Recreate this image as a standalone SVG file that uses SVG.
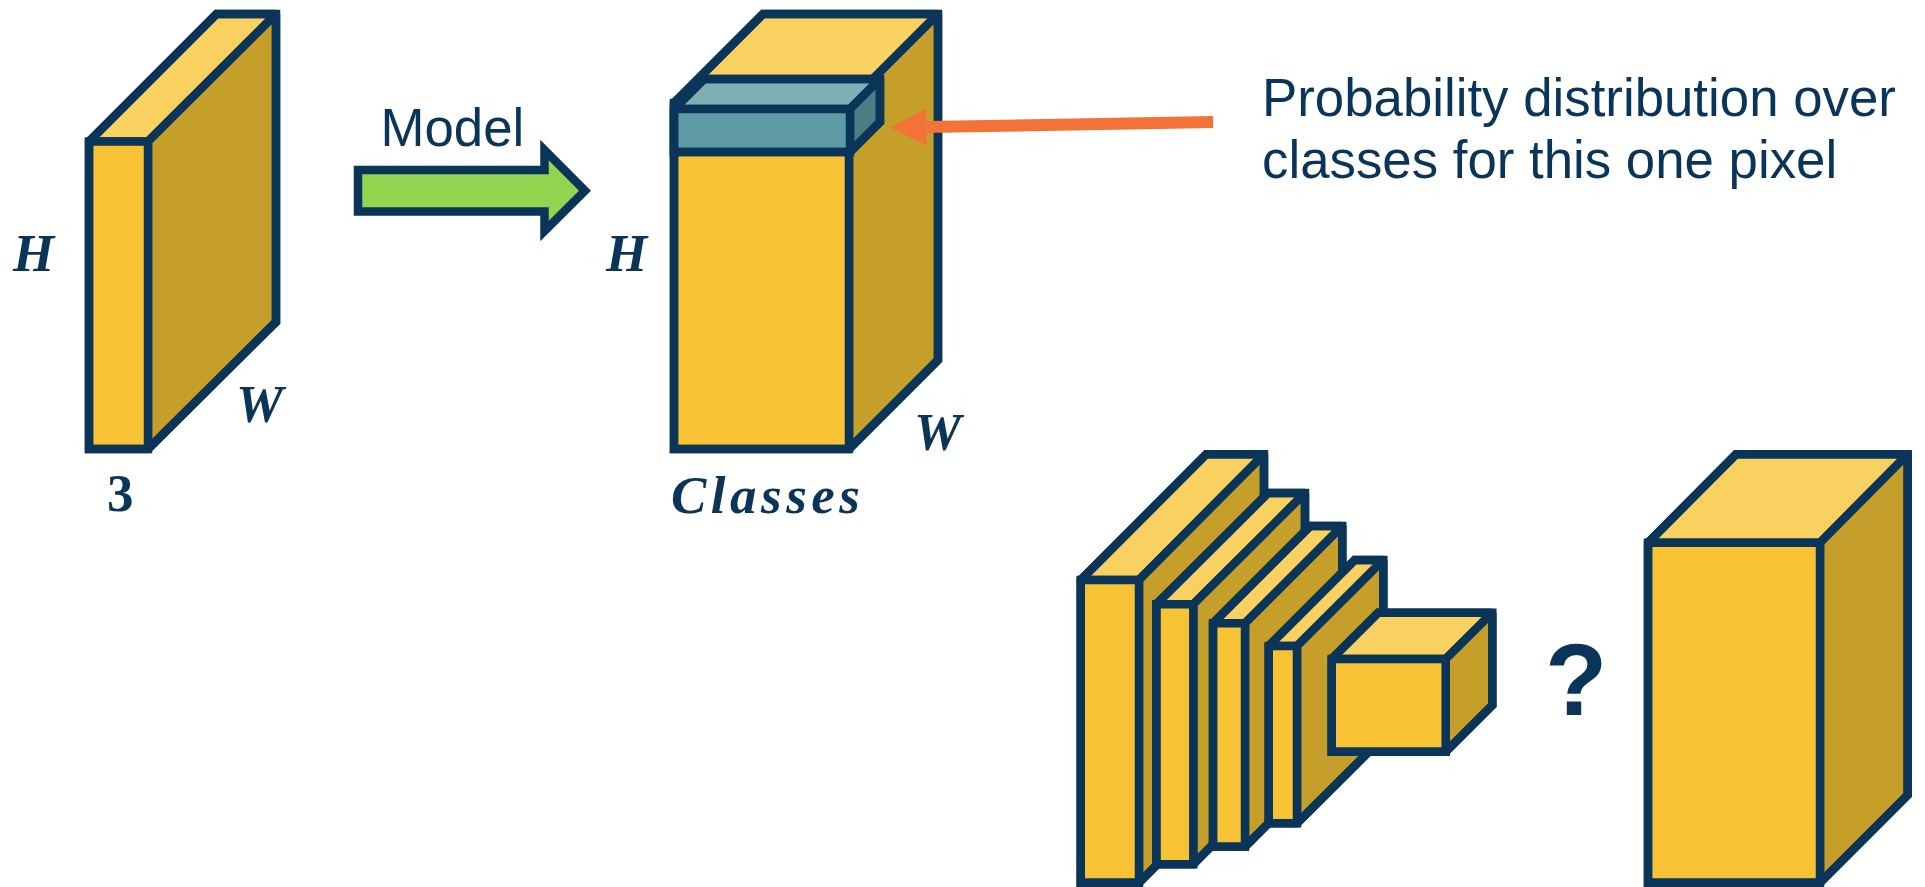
<svg xmlns="http://www.w3.org/2000/svg" width="1925" height="887" viewBox="0 0 1925 887">
<style>
polygon{stroke:#0A3558;stroke-width:8.5;stroke-linejoin:miter;stroke-miterlimit:2}
.f{fill:#F7C334}.t{fill:#F9D160}.s{fill:#C69F2A}.o{fill:none}
.tf{fill:#5E9AA6}.tt{fill:#80AFB6}.ts{fill:#4D7E86}
.sans{font-family:"Liberation Sans",Arial,sans-serif;font-size:52.8px;fill:#0A3558}
.math{font-family:"Liberation Serif","Times New Roman",serif;font-size:53px;font-weight:bold;font-style:italic;fill:#0A3558}
</style>
<defs>
<marker id="orangeHead" markerUnits="userSpaceOnUse" markerWidth="38" markerHeight="38" refX="0" refY="18.5" orient="auto" viewBox="0 0 38 37">
<path d="M0 0 L36 18.5 L0 37 Z" fill="#F27237"/>
</marker>
</defs>
<rect width="1925" height="887" fill="#FFFFFF"/>

<g id="input-volume">
<polygon class="t" points="89,141.5 216.5,14 276,14 148,141.5"/>
<polygon class="s" points="148,141.5 276,14 276,322 148,449"/>
<polygon class="f" points="89,141.5 148,141.5 148,449 89,449"/>
<polygon class="o" points="89,141.5 216.5,14 276,14 276,322 148,449 89,449"/>
<text class="math" x="13" y="271">H</text>
<text class="math" x="236" y="422">W</text>
<text class="math" x="107" y="511" style="font-style:normal">3</text>
</g>

<g id="output-volume">
<polygon class="t" points="674,103 763,14 938,14 849,103"/>
<polygon class="s" points="849,103 938,14 938,360 849,449"/>
<polygon class="f" points="674,103 849,103 849,449 674,449"/>
<polygon class="o" points="674,103 763,14 938,14 938,360 849,449 674,449"/>
<polygon class="tt" points="674,109 704,79 880,79 850,109"/>
<polygon class="ts" points="850,109 880,79 880,122 850,152"/>
<polygon class="tf" points="674,109 850,109 850,152 674,152"/>
<polygon class="o" points="674,109 704,79 880,79 880,122 850,152 674,152"/>
<text class="math" x="606" y="271">H</text>
<text class="math" x="914" y="450">W</text>
<text class="math" x="671" y="513" style="letter-spacing:4.5px">Classes</text>
</g>

<g id="connectors">
<g id="model-arrow">
<polygon fill="#92D34F" style="stroke-miterlimit:10" points="358,170 544.5,170 544.5,150 585,190.7 544.5,231 544.5,211.5 358,211.5"/>
</g>
<line id="pixel-arrow" x1="1213" y1="122" x2="926.5" y2="127" stroke="#F27237" stroke-width="12" marker-end="url(#orangeHead)"/>
</g>

<g id="model-label"><text class="sans" x="380.5" y="145.5">Model</text></g>
<g id="caption">
<text class="sans" x="1262" y="116">Probability distribution over</text>
<text class="sans" x="1262" y="178">classes for this one pixel</text>
</g>

<g id="encoder-1">
<polygon class="t" points="1080.7,580 1206.2,454.3 1264,454.3 1139,580"/>
<polygon class="s" points="1139,580 1264,454.3 1264,757 1139,882.7"/>
<polygon class="f" points="1080.7,580 1139,580 1139,882.7 1080.7,882.7"/>
<polygon class="o" points="1080.7,580 1206.2,454.3 1264,454.3 1264,757 1139,882.7 1080.7,882.7"/>
</g>
<g id="encoder-2">
<polygon class="t" points="1156.3,604.3 1268,493 1305,493 1193.3,604.3"/>
<polygon class="s" points="1193.3,604.3 1305,493 1305,752.6 1193.3,864.3"/>
<polygon class="f" points="1156.3,604.3 1193.3,604.3 1193.3,864.3 1156.3,864.3"/>
<polygon class="o" points="1156.3,604.3 1268,493 1305,493 1305,752.6 1193.3,864.3 1156.3,864.3"/>
</g>
<g id="encoder-3">
<polygon class="t" points="1213,623.3 1310.3,526 1342.3,526 1245,623.3"/>
<polygon class="s" points="1245,623.3 1342.3,526 1342.3,749.4 1245,846.7"/>
<polygon class="f" points="1213,623.3 1245,623.3 1245,846.7 1213,846.7"/>
<polygon class="o" points="1213,623.3 1310.3,526 1342.3,526 1342.3,749.4 1245,846.7 1213,846.7"/>
</g>
<g id="encoder-4">
<polygon class="t" points="1268.7,646 1354.7,560 1383.3,560 1297,646"/>
<polygon class="s" points="1297,646 1383.3,560 1383.3,737.3 1297,823.3"/>
<polygon class="f" points="1268.7,646 1297,646 1297,823.3 1268.7,823.3"/>
<polygon class="o" points="1268.7,646 1354.7,560 1383.3,560 1383.3,737.3 1297,823.3 1268.7,823.3"/>
</g>
<g id="encoder-5">
<polygon class="t" points="1331.7,659 1378.2,612.7 1492.3,612.7 1445.7,659"/>
<polygon class="s" points="1445.7,659 1492.3,612.7 1492.3,705.2 1445.7,751.7"/>
<polygon class="f" points="1331.7,659 1445.7,659 1445.7,751.7 1331.7,751.7"/>
<polygon class="o" points="1331.7,659 1378.2,612.7 1492.3,612.7 1492.3,705.2 1445.7,751.7 1331.7,751.7"/>
</g>

<g id="question-mark"><text x="1545" y="715" style="font-family:'Liberation Sans',Arial,sans-serif;font-size:102px;font-weight:bold;fill:#0A3558">?</text></g>

<g id="target-volume">
<polygon class="t" points="1648,542.7 1736,454.3 1907.7,454.3 1820,542.7"/>
<polygon class="s" points="1820,542.7 1907.7,454.3 1907.7,795 1820,882.7"/>
<polygon class="f" points="1648,542.7 1820,542.7 1820,882.7 1648,882.7"/>
<polygon class="o" points="1648,542.7 1736,454.3 1907.7,454.3 1907.7,795 1820,882.7 1648,882.7"/>
</g>
</svg>
